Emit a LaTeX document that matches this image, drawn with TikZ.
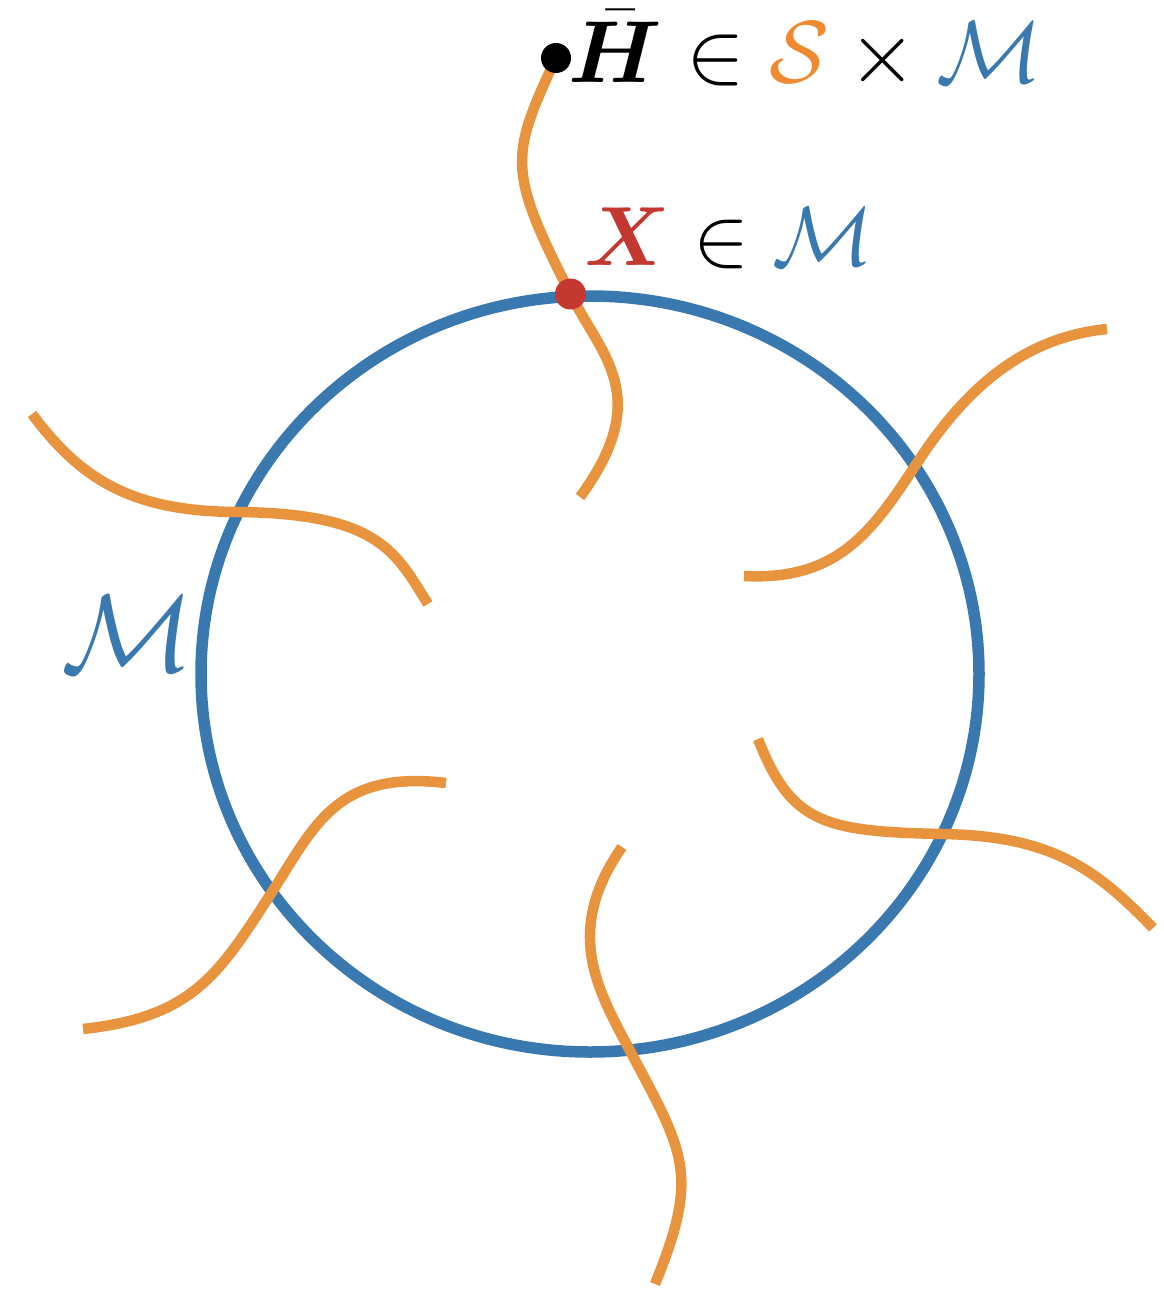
\RequirePackage{fix-cm}
\documentclass[tikz,border=0pt]{standalone}
\usepackage{bm}
\definecolor{mblue}{HTML}{3A78B0}
\definecolor{morange}{HTML}{E8943F}
\definecolor{sorange}{HTML}{F08A30}
\definecolor{mred}{HTML}{C43832}
\begin{document}
\begin{tikzpicture}[x=1pt,y=-1pt,
  fibre/.style={draw=morange,line width=10.5pt,line cap=butt},
  manifold/.style={draw=mblue,line width=11.5pt},
  dotnode/.style={circle,inner sep=0pt,minimum size=#1},
  toplabel/.style={anchor=base west,inner sep=0pt,font=\fontsize{88}{94}\selectfont},
  biglabel/.style={anchor=base west,inner sep=0pt,font=\fontsize{84}{90}\selectfont},
  sidelabel/.style={anchor=base west,inner sep=0pt,font=\fontsize{110}{120}\selectfont,text=mblue}]
\useasboundingbox (0,0) rectangle (1164,1298);
% manifold
\draw[manifold] (590,674) ellipse [x radius=389, y radius=378];
% points
\coordinate (hpos) at (556,58);
\coordinate (xpos) at (570.5,294);
% fibres
\draw[fibre] (580,497) .. controls (654,396) and (601.5,356) .. (xpos)
  .. controls (507,169.4) and (510,157) .. (hpos);
\draw[fibre] (744,576) .. controls (839,581) and (873,530) .. (917,463)
  .. controls (961,396) and (1017,338) .. (1107,329);
\draw[fibre] (758,739) .. controls (791,823) and (823,831.6) .. (943,834)
  .. controls (1053,836) and (1097,870) .. (1153,928);
\draw[fibre] (622,847) .. controls (565,929) and (595,985.4) .. (628,1047)
  .. controls (684,1152.6) and (700.6,1172.4) .. (655,1284);
\draw[fibre] (446,783) .. controls (337,770) and (315,825) .. (272,892)
  .. controls (218,976) and (192,1017) .. (83,1029);
\draw[fibre] (32,414) .. controls (80,478) and (130,512) .. (240,512)
  .. controls (380,514) and (396,553) .. (428,604);
\node[dotnode=30pt,fill=black] (hbar) at (hpos) {};
\node[dotnode=31pt,fill=mred] (xpt) at (xpos) {};
% labels
\node[toplabel] (hlabel) at (568,82) {$\bar{\bm{H}} \in \textcolor{sorange}{\mathcal{S}} \times \textcolor{mblue}{\mathcal{M}}$};
\node[biglabel] (xlabel) at (584,265) {$\textcolor{mred}{\bm{X}} \in \textcolor{mblue}{\mathcal{M}}$};
\node[sidelabel] (mlabel) at (61,671) {$\mathcal{M}$};
\end{tikzpicture}
\end{document}
